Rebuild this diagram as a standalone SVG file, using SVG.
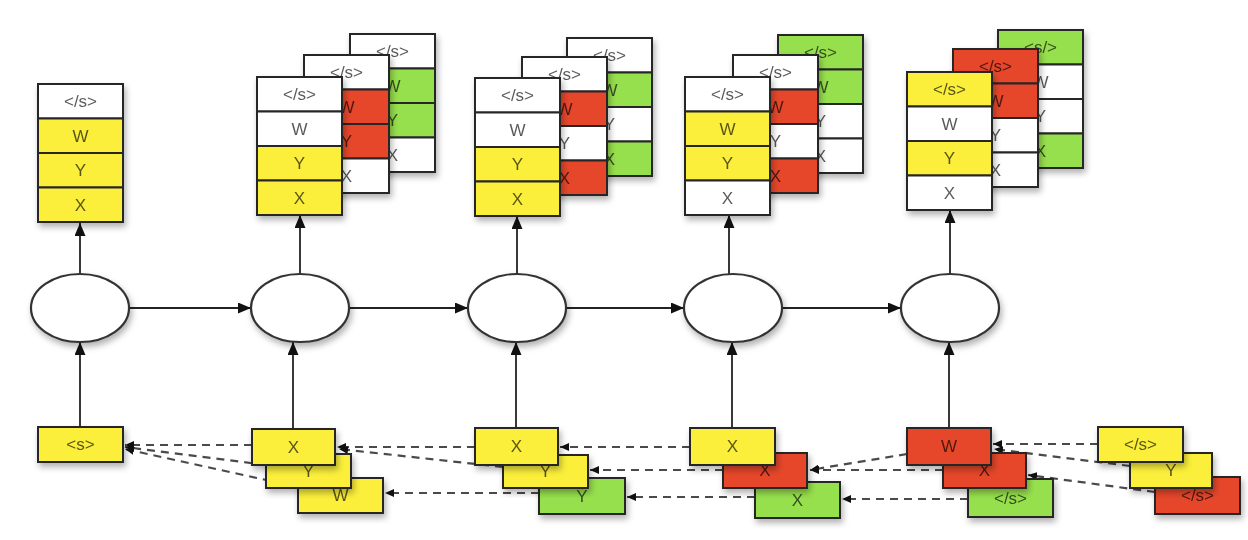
<svg xmlns="http://www.w3.org/2000/svg" width="1248" height="540" viewBox="0 0 1248 540">
<defs>
<style>
.c{stroke:#262626;stroke-width:2}
.w{fill:#ffffff}.y{fill:#FBEF3B}.r{fill:#E6472C}.g{fill:#97E04E}
text{font-family:"Liberation Sans",Arial,sans-serif;font-size:17px;text-anchor:middle;fill:#000;fill-opacity:0.66}
.solid{stroke:#222;stroke-width:1.8;fill:none}
.dash{stroke:#4a4a4a;stroke-width:2.2;stroke-dasharray:8 6;fill:none}
.node{stroke:#333;stroke-width:2.2;fill:#fff}
</style>
<filter id="sh" x="-20%" y="-20%" width="150%" height="150%"><feDropShadow dx="2" dy="4" stdDeviation="3" flood-color="#000" flood-opacity="0.3"/></filter>
<marker id="ah" markerUnits="userSpaceOnUse" markerWidth="13" markerHeight="11" refX="13" refY="5.5" orient="auto"><path d="M0,0 L13,5.5 L0,11 z" fill="#111"/></marker>
<marker id="ad" markerUnits="userSpaceOnUse" markerWidth="9" markerHeight="8" refX="9" refY="4" orient="auto"><path d="M0,0 L9,4 L0,8 z" fill="#111"/></marker>
</defs>
<rect width="1248" height="540" fill="#fff"/>

<g id="connectors">
<line class="solid" x1="80" y1="290" x2="80" y2="223" marker-end="url(#ah)"/>
<line class="solid" x1="300" y1="290" x2="300" y2="215" marker-end="url(#ah)"/>
<line class="solid" x1="517" y1="290" x2="517" y2="216" marker-end="url(#ah)"/>
<line class="solid" x1="729" y1="290" x2="729" y2="215" marker-end="url(#ah)"/>
<line class="solid" x1="950" y1="290" x2="950" y2="210" marker-end="url(#ah)"/>

<line class="solid" x1="80" y1="440" x2="80" y2="342" marker-end="url(#ah)"/>
<line class="solid" x1="293" y1="440" x2="293" y2="342" marker-end="url(#ah)"/>
<line class="solid" x1="516" y1="440" x2="516" y2="342" marker-end="url(#ah)"/>
<line class="solid" x1="732" y1="440" x2="732" y2="342" marker-end="url(#ah)"/>
<line class="solid" x1="949" y1="440" x2="949" y2="342" marker-end="url(#ah)"/>

<line class="solid" x1="120" y1="308" x2="251" y2="308" marker-end="url(#ah)"/>
<line class="solid" x1="340" y1="308" x2="468" y2="308" marker-end="url(#ah)"/>
<line class="solid" x1="557" y1="308" x2="684" y2="308" marker-end="url(#ah)"/>
<line class="solid" x1="773" y1="308" x2="901" y2="308" marker-end="url(#ah)"/>

<line class="dash" x1="252" y1="445" x2="125" y2="445" marker-end="url(#ad)"/>
<line class="dash" x1="266" y1="465" x2="125" y2="447" marker-end="url(#ad)"/>
<line class="dash" x1="298" y1="487" x2="125" y2="449" marker-end="url(#ad)"/>

<line class="dash" x1="475" y1="447" x2="337" y2="447" marker-end="url(#ad)"/>
<line class="dash" x1="503" y1="467" x2="339" y2="449" marker-end="url(#ad)"/>
<line class="dash" x1="539" y1="493" x2="385" y2="493" marker-end="url(#ad)"/>

<line class="dash" x1="690" y1="447" x2="560" y2="447" marker-end="url(#ad)"/>
<line class="dash" x1="723" y1="470" x2="590" y2="470" marker-end="url(#ad)"/>
<line class="dash" x1="755" y1="497" x2="627" y2="497" marker-end="url(#ad)"/>

<line class="dash" x1="907" y1="454" x2="810" y2="470" marker-end="url(#ad)"/>
<line class="dash" x1="943" y1="470" x2="810" y2="470" marker-end="url(#ad)"/>
<line class="dash" x1="968" y1="499" x2="842" y2="499" marker-end="url(#ad)"/>

<line class="dash" x1="1098" y1="444" x2="993" y2="444" marker-end="url(#ad)"/>
<line class="dash" x1="1130" y1="466" x2="994" y2="449" marker-end="url(#ad)"/>
<line class="dash" x1="1155" y1="492" x2="1028" y2="475" marker-end="url(#ad)"/>
</g>

<!-- output stacks -->
<g id="out1" transform="translate(38,84)" filter="url(#sh)">
<rect class="c w" width="85" height="34.5"/><text x="42.5" y="23">&lt;/s&gt;</text>
<rect class="c y" y="34.5" width="85" height="34.5"/><text x="42.5" y="57.5">W</text>
<rect class="c y" y="69" width="85" height="34.5"/><text x="42.5" y="92">Y</text>
<rect class="c y" y="103.5" width="85" height="34.5"/><text x="42.5" y="126.5">X</text>
</g>

<g id="out2c" transform="translate(350,34)" filter="url(#sh)">
<rect class="c w" width="85" height="34.5"/><text x="42.5" y="23">&lt;/s&gt;</text>
<rect class="c g" y="34.5" width="85" height="34.5"/><text x="42.5" y="57.5">W</text>
<rect class="c g" y="69" width="85" height="34.5"/><text x="42.5" y="92">Y</text>
<rect class="c w" y="103.5" width="85" height="34.5"/><text x="42.5" y="126.5">X</text>
</g>
<g id="out2b" transform="translate(304,55)" filter="url(#sh)">
<rect class="c w" width="85" height="34.5"/><text x="42.5" y="23">&lt;/s&gt;</text>
<rect class="c r" y="34.5" width="85" height="34.5"/><text x="42.5" y="57.5">W</text>
<rect class="c r" y="69" width="85" height="34.5"/><text x="42.5" y="92">Y</text>
<rect class="c w" y="103.5" width="85" height="34.5"/><text x="42.5" y="126.5">X</text>
</g>
<g id="out2a" transform="translate(257,77)" filter="url(#sh)">
<rect class="c w" width="85" height="34.5"/><text x="42.5" y="23">&lt;/s&gt;</text>
<rect class="c w" y="34.5" width="85" height="34.5"/><text x="42.5" y="57.5">W</text>
<rect class="c y" y="69" width="85" height="34.5"/><text x="42.5" y="92">Y</text>
<rect class="c y" y="103.5" width="85" height="34.5"/><text x="42.5" y="126.5">X</text>
</g>

<g id="out3c" transform="translate(567,38)" filter="url(#sh)">
<rect class="c w" width="85" height="34.5"/><text x="42.5" y="23">&lt;/s&gt;</text>
<rect class="c g" y="34.5" width="85" height="34.5"/><text x="42.5" y="57.5">W</text>
<rect class="c w" y="69" width="85" height="34.5"/><text x="42.5" y="92">Y</text>
<rect class="c g" y="103.5" width="85" height="34.5"/><text x="42.5" y="126.5">X</text>
</g>
<g id="out3b" transform="translate(522,57)" filter="url(#sh)">
<rect class="c w" width="85" height="34.5"/><text x="42.5" y="23">&lt;/s&gt;</text>
<rect class="c r" y="34.5" width="85" height="34.5"/><text x="42.5" y="57.5">W</text>
<rect class="c w" y="69" width="85" height="34.5"/><text x="42.5" y="92">Y</text>
<rect class="c r" y="103.5" width="85" height="34.5"/><text x="42.5" y="126.5">X</text>
</g>
<g id="out3a" transform="translate(475,78)" filter="url(#sh)">
<rect class="c w" width="85" height="34.5"/><text x="42.5" y="23">&lt;/s&gt;</text>
<rect class="c w" y="34.5" width="85" height="34.5"/><text x="42.5" y="57.5">W</text>
<rect class="c y" y="69" width="85" height="34.5"/><text x="42.5" y="92">Y</text>
<rect class="c y" y="103.5" width="85" height="34.5"/><text x="42.5" y="126.5">X</text>
</g>

<g id="out4c" transform="translate(778,35)" filter="url(#sh)">
<rect class="c g" width="85" height="34.5"/><text x="42.5" y="23">&lt;/s&gt;</text>
<rect class="c g" y="34.5" width="85" height="34.5"/><text x="42.5" y="57.5">W</text>
<rect class="c w" y="69" width="85" height="34.5"/><text x="42.5" y="92">Y</text>
<rect class="c w" y="103.5" width="85" height="34.5"/><text x="42.5" y="126.5">X</text>
</g>
<g id="out4b" transform="translate(733,55)" filter="url(#sh)">
<rect class="c w" width="85" height="34.5"/><text x="42.5" y="23">&lt;/s&gt;</text>
<rect class="c r" y="34.5" width="85" height="34.5"/><text x="42.5" y="57.5">W</text>
<rect class="c w" y="69" width="85" height="34.5"/><text x="42.5" y="92">Y</text>
<rect class="c r" y="103.5" width="85" height="34.5"/><text x="42.5" y="126.5">X</text>
</g>
<g id="out4a" transform="translate(685,77)" filter="url(#sh)">
<rect class="c w" width="85" height="34.5"/><text x="42.5" y="23">&lt;/s&gt;</text>
<rect class="c y" y="34.5" width="85" height="34.5"/><text x="42.5" y="57.5">W</text>
<rect class="c y" y="69" width="85" height="34.5"/><text x="42.5" y="92">Y</text>
<rect class="c w" y="103.5" width="85" height="34.5"/><text x="42.5" y="126.5">X</text>
</g>

<g id="out5c" transform="translate(998,30)" filter="url(#sh)">
<rect class="c g" width="85" height="34.5"/><text x="42.5" y="23">&lt;s/&gt;</text>
<rect class="c w" y="34.5" width="85" height="34.5"/><text x="42.5" y="57.5">W</text>
<rect class="c w" y="69" width="85" height="34.5"/><text x="42.5" y="92">Y</text>
<rect class="c g" y="103.5" width="85" height="34.5"/><text x="42.5" y="126.5">X</text>
</g>
<g id="out5b" transform="translate(953,49)" filter="url(#sh)">
<rect class="c r" width="85" height="34.5"/><text x="42.5" y="23">&lt;/s&gt;</text>
<rect class="c r" y="34.5" width="85" height="34.5"/><text x="42.5" y="57.5">W</text>
<rect class="c w" y="69" width="85" height="34.5"/><text x="42.5" y="92">Y</text>
<rect class="c w" y="103.5" width="85" height="34.5"/><text x="42.5" y="126.5">X</text>
</g>
<g id="out5a" transform="translate(907,72)" filter="url(#sh)">
<rect class="c y" width="85" height="34.5"/><text x="42.5" y="23">&lt;/s&gt;</text>
<rect class="c w" y="34.5" width="85" height="34.5"/><text x="42.5" y="57.5">W</text>
<rect class="c y" y="69" width="85" height="34.5"/><text x="42.5" y="92">Y</text>
<rect class="c w" y="103.5" width="85" height="34.5"/><text x="42.5" y="126.5">X</text>
</g>

<!-- recurrent units -->
<g id="rnn1" filter="url(#sh)"><ellipse class="node" cx="80" cy="308" rx="49" ry="34"/></g>
<g id="rnn2" filter="url(#sh)"><ellipse class="node" cx="300" cy="308" rx="49" ry="34"/></g>
<g id="rnn3" filter="url(#sh)"><ellipse class="node" cx="517" cy="308" rx="49" ry="34"/></g>
<g id="rnn4" filter="url(#sh)"><ellipse class="node" cx="733" cy="308" rx="49" ry="34"/></g>
<g id="rnn5" filter="url(#sh)"><ellipse class="node" cx="950" cy="308" rx="49" ry="34"/></g>

<!-- input tokens -->
<g id="in1" filter="url(#sh)"><rect class="c y" x="38" y="427" width="85" height="35"/><text x="80.5" y="450">&lt;s&gt;</text></g>

<g id="in2c" filter="url(#sh)"><rect class="c y" x="298" y="478" width="85" height="35"/><text x="340.5" y="501">W</text></g>
<g id="in2b" filter="url(#sh)"><rect class="c y" x="266" y="454" width="85" height="34"/><text x="308.5" y="477">Y</text></g>
<g id="in2a" filter="url(#sh)"><rect class="c y" x="252" y="429" width="83" height="36"/><text x="293.5" y="453">X</text></g>

<g id="in3c" filter="url(#sh)"><rect class="c g" x="539" y="478" width="86" height="36"/><text x="582" y="502">Y</text></g>
<g id="in3b" filter="url(#sh)"><rect class="c y" x="503" y="455" width="85" height="33"/><text x="545.5" y="477">Y</text></g>
<g id="in3a" filter="url(#sh)"><rect class="c y" x="475" y="428" width="83" height="37"/><text x="516.5" y="452">X</text></g>

<g id="in4c" filter="url(#sh)"><rect class="c g" x="755" y="482" width="85" height="36"/><text x="797.5" y="506">X</text></g>
<g id="in4b" filter="url(#sh)"><rect class="c r" x="723" y="453" width="84" height="35"/><text x="765" y="476">X</text></g>
<g id="in4a" filter="url(#sh)"><rect class="c y" x="690" y="428" width="85" height="37"/><text x="732.5" y="452">X</text></g>

<g id="in5c" filter="url(#sh)"><rect class="c g" x="968" y="479" width="85" height="38"/><text x="1010.5" y="504">&lt;/s&gt;</text></g>
<g id="in5b" filter="url(#sh)"><rect class="c r" x="943" y="453" width="83" height="35"/><text x="984.5" y="476">X</text></g>
<g id="in5a" filter="url(#sh)"><rect class="c r" x="907" y="428" width="84" height="37"/><text x="949" y="452">W</text></g>

<g id="in6c" filter="url(#sh)"><rect class="c r" x="1155" y="477" width="85" height="37"/><text x="1197.5" y="501">&lt;/s&gt;</text></g>
<g id="in6b" filter="url(#sh)"><rect class="c y" x="1130" y="453" width="82" height="35"/><text x="1171" y="476">Y</text></g>
<g id="in6a" filter="url(#sh)"><rect class="c y" x="1098" y="427" width="85" height="35"/><text x="1140.5" y="450">&lt;/s&gt;</text></g>
</svg>
